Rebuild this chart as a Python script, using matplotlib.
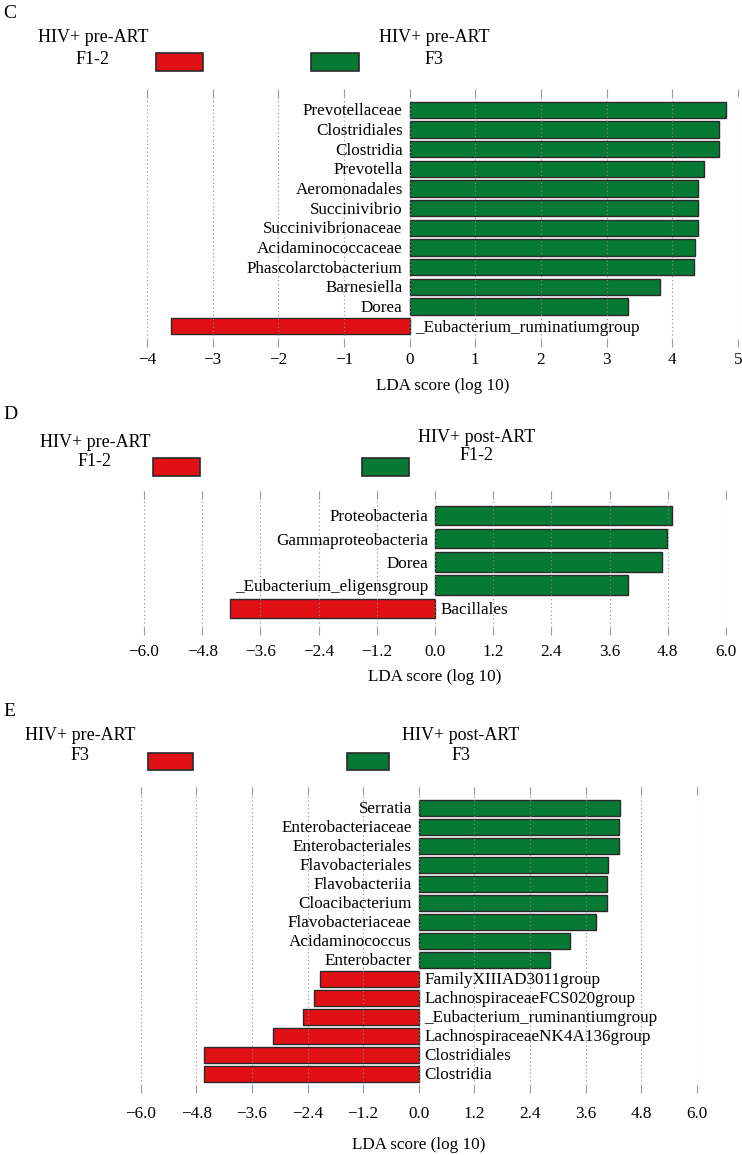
import matplotlib.pyplot as plt
from matplotlib.patches import Rectangle

plt.rcParams['font.family'] = ['Liberation Serif', 'DejaVu Serif']

RED = '#e01015'
GREEN = '#067a34'
EDGE = '#2a2a2a'

# panel C
c_names = ['Prevotellaceae', 'Clostridiales', 'Clostridia', 'Prevotella', 'Aeromonadales',
           'Succinivibrio', 'Succinivibrionaceae', 'Acidaminococcaceae',
           'Phascolarctobacterium', 'Barnesiella', 'Dorea', '_Eubacterium_ruminatiumgroup']
c_lda = [4.81, 4.71, 4.71, 4.48, 4.39, 4.39, 4.39, 4.34, 4.33, 3.81, 3.33, -3.63]
c_ticks = [-4, -3, -2, -1, 0, 1, 2, 3, 4, 5]
c_ticklabels = ['\u22124', '\u22123', '\u22122', '\u22121', '0', '1', '2', '3', '4', '5']

# panel D
d_names = ['Proteobacteria', 'Gammaproteobacteria', 'Dorea', '_Eubacterium_eligensgroup', 'Bacillales']
d_lda = [4.89, 4.78, 4.68, 3.97, -4.22]

# panel E
e_names = ['Serratia', 'Enterobacteriaceae', 'Enterobacteriales', 'Flavobacteriales',
           'Flavobacteriia', 'Cloacibacterium', 'Flavobacteriaceae', 'Acidaminococcus',
           'Enterobacter', 'FamilyXIIIAD3011group', 'LachnospiraceaeFCS020group',
           '_Eubacterium_ruminantiumgroup', 'LachnospiraceaeNK4A136group',
           'Clostridiales', 'Clostridia']
e_lda = [4.33, 4.31, 4.31, 4.08, 4.06, 4.05, 3.83, 3.26, 2.84,
         -2.13, -2.26, -2.49, -3.15, -4.64, -4.64]

de_ticks = [-6.0, -4.8, -3.6, -2.4, -1.2, 0.0, 1.2, 2.4, 3.6, 4.8, 6.0]
de_ticklabels = [('\u2212%.1f' % -t) if t < 0 else '%.1f' % t for t in de_ticks]

W, H = 742, 1155
FS = 12.3
fig = plt.figure(figsize=(W / 100, H / 100), dpi=100)


def px(x0, y0, x1, y1):
    # pixel box -> figure fraction [left, bottom, width, height]
    return [x0 / W, 1 - y1 / H, (x1 - x0) / W, (y1 - y0) / H]


def panel(box, names, vals, ticks, ticklabels, ylim, xlab_y, pad):
    ax = fig.add_axes(px(*box))
    pos = list(range(len(vals)))
    cols = [GREEN if v > 0 else RED for v in vals]
    ax.barh(pos, vals, height=0.84, color=cols, edgecolor=EDGE, linewidth=1.0, zorder=2)
    for p, v, n in zip(pos, vals, names):
        if v > 0:
            ax.annotate(n, (0, p + 0.08), xytext=(-5, 0), textcoords='offset points',
                        ha='right', va='center', fontsize=FS)
        else:
            ax.annotate(n, (0, p + 0.08), xytext=(4, 0), textcoords='offset points',
                        ha='left', va='center', fontsize=FS)
    ax.set_xlim(ticks[0], ticks[-1])
    ax.set_ylim(*ylim)
    ax.set_xticks(ticks)
    ax.set_xticklabels(ticklabels, fontsize=FS)
    ax.set_yticks([])
    for s in ax.spines.values():
        s.set_visible(False)
    ax.grid(axis='x', linestyle=(0, (1, 2.5)), color='#888888', linewidth=0.8, zorder=3)
    ax.set_axisbelow(False)
    ax.tick_params(axis='x', top=True, bottom=True, direction='out', length=6,
                   width=0.8, color='#999999', pad=pad)
    x_mid = (box[0] + box[2]) / 2
    fig.text(x_mid / W, 1 - xlab_y / H, 'LDA score (log 10)', ha='center', va='center', fontsize=FS)
    return ax


def legend(letter, letter_y, left_lbl, left_c, right_lbl, right_c, red_box, green_box, rows_y):
    fig.text(3 / W, 1 - letter_y / H, letter, ha='left', va='center', fontsize=14)
    for (x0, y0, x1, y1), col in ((red_box, RED), (green_box, GREEN)):
        fig.add_artist(Rectangle((x0 / W, 1 - y1 / H), (x1 - x0) / W, (y1 - y0) / H,
                                 transform=fig.transFigure, facecolor=col,
                                 edgecolor=EDGE, linewidth=1.2))
    (ly1, ly2), (ry1, ry2) = rows_y
    fig.text(left_c / W, 1 - ly1 / H, left_lbl[0], ha='center', va='center', fontsize=13)
    fig.text(left_c / W, 1 - ly2 / H, left_lbl[1], ha='center', va='center', fontsize=13)
    fig.text(right_c / W, 1 - ry1 / H, right_lbl[0], ha='center', va='center', fontsize=13)
    fig.text(right_c / W, 1 - ry2 / H, right_lbl[1], ha='center', va='center', fontsize=13)


# C
panel((147, 97, 738, 339), c_names, c_lda, c_ticks, c_ticklabels,
      (11.65, -0.65), 386, 3)
legend('C', 13, ('HIV+ pre-ART', 'F1-2'), 93, ('HIV+ pre-ART', 'F3'), 434,
       (156, 53, 203, 71), (311, 53, 359, 71), ((38, 60), (38, 60)))

# D
panel((144, 499, 726, 627), d_names, d_lda, de_ticks, de_ticklabels,
      (4.8, -0.71), 677, 6)
legend('D', 415, ('HIV+ pre-ART', 'F1-2'), 95, ('HIV+ post-ART', 'F1-2'), 477,
       (153, 458, 200, 476), (362, 458, 409, 476), ((442, 461), (437, 456)))

# E
panel((140.6, 795, 697, 1085), e_names, e_lda, de_ticks, de_ticklabels,
      (14.58, -0.68), 1145, 9)
legend('E', 712, ('HIV+ pre-ART', 'F3'), 80, ('HIV+ post-ART', 'F3'), 461,
       (148, 753, 193, 770), (347, 753, 389, 770), ((735, 755), (735, 755)))

fig.savefig('out.png', dpi=100)
